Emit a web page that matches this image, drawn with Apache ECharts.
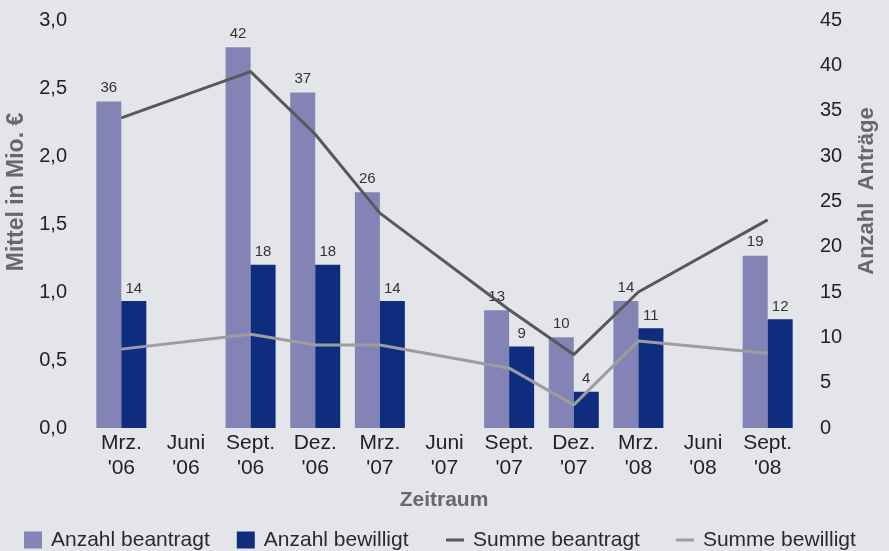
<!DOCTYPE html>
<html>
<head>
<meta charset="utf-8">
<script src="https://cdn.jsdelivr.net/npm/echarts@6/dist/echarts.min.js"></script>
<style>
    html, body { margin: 0; padding: 0; background: #e3e5e8; }
    #chart { width: 889px; height: 551px; }
</style>
</head>
<body>
<div id="chart"></div>
<script>
// Zeitraum (x-axis categories)
const categories = ["Mrz.\n'06", "Juni\n'06", "Sept.\n'06", "Dez.\n'06", "Mrz.\n'07", "Juni\n'07",
    "Sept.\n'07", "Dez.\n'07", "Mrz.\n'08", "Juni\n'08", "Sept.\n'08"]

// Anzahl Anträge (right axis)
const anzahlBeantragt = [36, null, 42, 37, 26, null, 13, 10, 14, null, 19]
const anzahlBewilligt = [14, null, 18, 18, 14, null, 9, 4, 11, null, 12]

// Mittel in Mio. € (left axis)
const summeBeantragt = [2.28, null, 2.62, 2.16, 1.58, null, 0.87, 0.54, 1.0, null, 1.53]
const summeBewilligt = [0.58, null, 0.69, 0.61, 0.61, null, 0.44, 0.17, 0.64, null, 0.55]

const bg = '#e3e5e8'
const font = "'Liberation Sans', Arial, sans-serif"
const legendText = { fontSize: 21, lineHeight: 22, color: '#2a2a2a', fontFamily: font, padding: [0, 0, 0, 4] }

let chart = echarts.init(document.getElementById('chart'))
chart.setOption({
    animation: false,
    backgroundColor: bg,
    textStyle: { fontFamily: font },
    grid: {
        left: 89,
        right: 89,
        top: 20,
        bottom: 123,
        containLabel: false
    },
    legend: [
        {
            left: 19,
            top: 524,
            itemWidth: 18,
            itemHeight: 17,
            itemGap: 27,
            icon: 'rect',
            textStyle: legendText,
            data: ['Anzahl beantragt', 'Anzahl bewilligt']
        },
        {
            left: 441,
            top: 524,
            itemWidth: 18,
            itemHeight: 3,
            itemGap: 36,
            icon: 'rect',
            textStyle: legendText,
            data: ['Summe beantragt', 'Summe bewilligt']
        }
    ],
    xAxis: {
        type: 'category',
        data: categories,
        axisLine: { show: false },
        axisTick: { show: false },
        axisLabel: {
            fontSize: 21,
            lineHeight: 25,
            color: '#222',
            margin: 3,
            interval: 0
        }
    },
    yAxis: [
        {
            type: 'value',
            min: 0,
            max: 3,
            interval: 0.5,
            splitLine: { show: false },
            axisLine: { show: false },
            axisTick: { show: false },
            axisLabel: {
                fontSize: 20,
                color: '#222',
                margin: 22,
                formatter: v => v.toFixed(1).replace('.', ',')
            }
        },
        {
            type: 'value',
            min: 0,
            max: 45,
            interval: 5,
            splitLine: { show: false },
            axisLine: { show: false },
            axisTick: { show: false },
            axisLabel: {
                fontSize: 20,
                color: '#222',
                margin: 20
            }
        }
    ],
    graphic: [
        {
            type: 'text',
            x: 5,
            y: 192,
            rotation: Math.PI / 2,
            style: {
                text: 'Mittel in Mio. €',
                font: "bold 23px " + font,
                fill: '#68686c',
                align: 'center',
                verticalAlign: 'top'
            }
        },
        {
            type: 'text',
            x: 856,
            y: 191,
            rotation: Math.PI / 2,
            style: {
                text: 'Anzahl  Anträge',
                font: "bold 22px " + font,
                fill: '#68686c',
                align: 'center',
                verticalAlign: 'top'
            }
        },
        {
            type: 'text',
            x: 444,
            y: 500,
            style: {
                text: 'Zeitraum',
                font: "bold 21px " + font,
                fill: '#68686c',
                align: 'center',
                verticalAlign: 'middle'
            }
        }
    ],
    series: [
        {
            name: 'Anzahl beantragt',
            type: 'bar',
            yAxisIndex: 1,
            barWidth: 25,
            barGap: 0,
            itemStyle: { color: '#8383b5' },
            label: {
                show: true,
                position: 'top',
                distance: 5,
                fontSize: 15,
                color: '#333',
                backgroundColor: bg,
                padding: [1, 2]
            },
            data: anzahlBeantragt
        },
        {
            name: 'Anzahl bewilligt',
            type: 'bar',
            yAxisIndex: 1,
            barWidth: 25,
            barGap: 0,
            itemStyle: { color: '#0f2d7e' },
            label: {
                show: true,
                position: 'top',
                distance: 5,
                fontSize: 15,
                color: '#333'
            },
            data: anzahlBewilligt
        },
        {
            name: 'Summe beantragt',
            type: 'line',
            yAxisIndex: 0,
            connectNulls: true,
            symbol: 'none',
            lineStyle: { color: '#58585c', width: 3 },
            itemStyle: { color: '#58585c' },
            data: summeBeantragt
        },
        {
            name: 'Summe bewilligt',
            type: 'line',
            yAxisIndex: 0,
            connectNulls: true,
            symbol: 'none',
            lineStyle: { color: '#9d9da1', width: 3 },
            itemStyle: { color: '#9d9da1' },
            data: summeBewilligt
        }
    ]
})
</script>
</body>
</html>
